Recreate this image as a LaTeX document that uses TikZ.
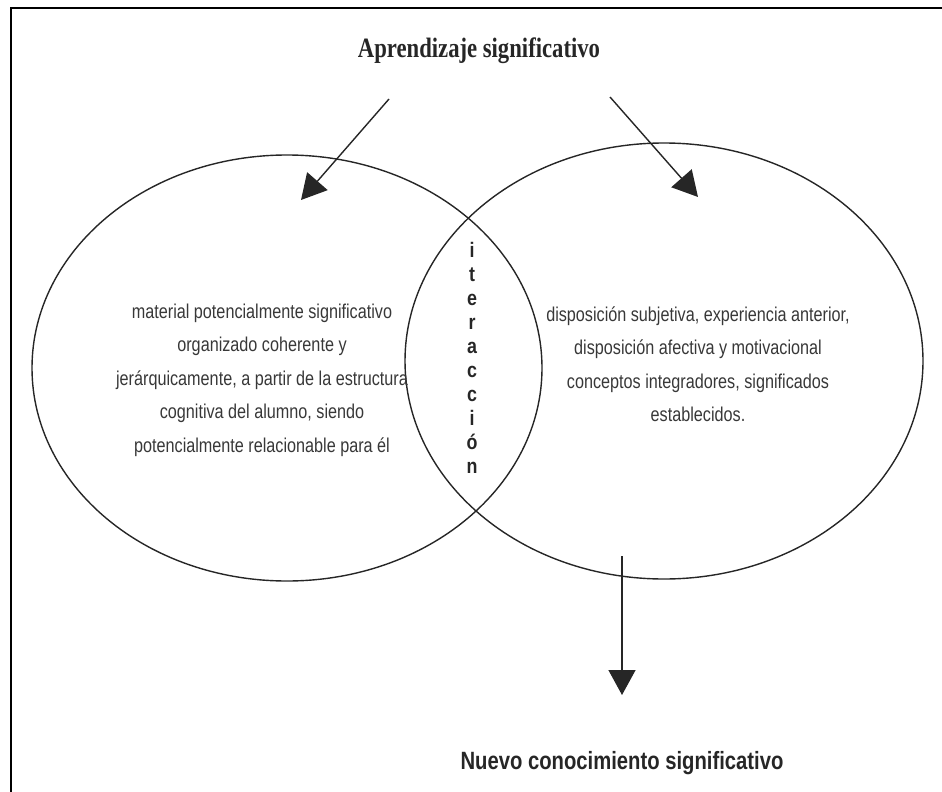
\documentclass[tikz,border=0pt]{standalone}
\usepackage{fontspec}
\setmainfont{Liberation Serif}
\newfontfamily\narrowsans[FakeStretch=0.81]{Liberation Sans}
\newfontfamily\narrowserif[FakeStretch=0.81]{Liberation Serif}
\newfontfamily\boldsans[FakeStretch=0.85]{Liberation Sans}
\usetikzlibrary{shapes.geometric, arrows.meta, positioning}

\tikzset{%
  % Specifications for style of nodes:
         oval/.style = {ellipse, draw = black!85, line width=1.4pt, minimum width=510pt, minimum height=426pt, inner sep=0pt},
         idea/.style = {align=center, text=black!78, inner sep=0pt, font=\narrowsans\fontsize{20}{33.5}\selectfont},
        title/.style = {inner sep=0pt, text=black!85, font=\narrowserif\fontsize{28}{30}\selectfont\bfseries},
       result/.style = {inner sep=0pt, text=black!85, font=\narrowsans\fontsize{25}{28}\selectfont\bfseries},
     vertword/.style = {align=center, inner sep=0pt, text=black!85, font=\boldsans\fontsize{21}{24}\selectfont\bfseries},
  % Specifications for style of arrows:
        arrow/.style = {-{Triangle[length=25pt,width=27pt]}, line width=1.4pt, draw=black!85},
}

\begin{document}
\begin{tikzpicture}[x=1pt, y=-1pt]
    \useasboundingbox (0,0) rectangle (942,792);
    % Frame
    \draw[line width=2pt] (11,792) -- (11,8) -- (942,8);

    % Draw nodes
    \node (top)      [title]  at (479,51)  {Aprendizaje significativo};
    \node (material) [oval]   at (287,368) {};
    \node (sujeto)   [oval, minimum width=518pt, minimum height=436pt] at (664,361) {};
    \node (mattext)  [idea]   at (262,380) {material potencialmente significativo\\ organizado coherente y\\ jerárquicamente, a partir de la estructura\\ cognitiva del alumno, siendo\\ potencialmente relacionable para él};
    \node (suttext)  [idea]   at (698,364) {disposición subjetiva, experiencia anterior,\\ disposición afectiva y motivacional\\ conceptos integradores, significados\\ establecidos.};
    \node (inter)    [vertword] at (472,358) {i\\ t\\ e\\ r\\ a\\ c\\ c\\ i\\ ó\\ n};
    \node (nuevo)    [result] at (622,763) {Nuevo conocimiento significativo};

    % Arrow ends
    \coordinate (l-from) at (389,99);
    \coordinate (l-to)   at (301,200);
    \coordinate (r-from) at (610,97);
    \coordinate (r-to)   at (698,197);
    \coordinate (d-from) at (622,556);
    \coordinate (d-to)   at (622,695);

    % Draw arrows
    \draw[arrow]           (l-from) -- (l-to);
    \draw[arrow]           (r-from) -- (r-to);
    \draw[arrow]           (d-from) -- (d-to);
\end{tikzpicture}
\end{document}
